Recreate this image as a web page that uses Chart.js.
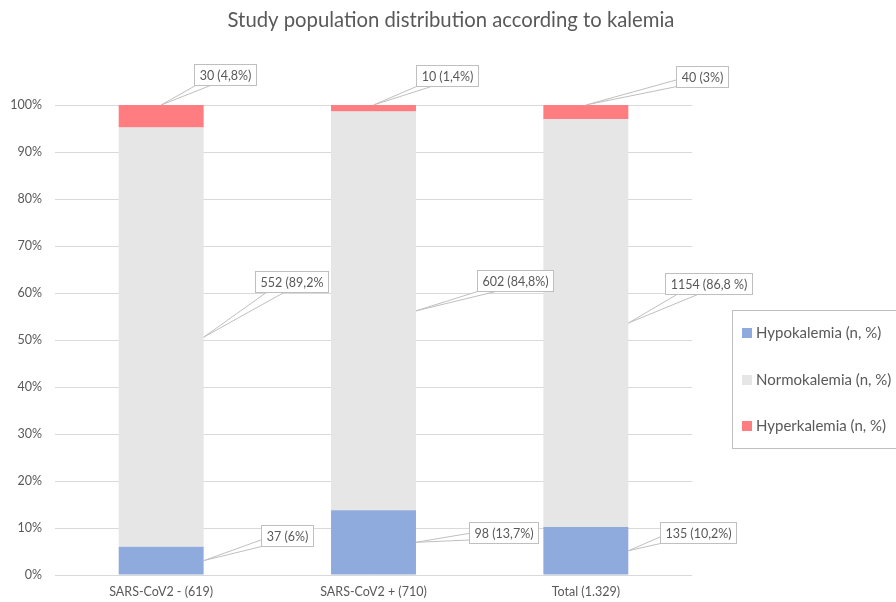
<!DOCTYPE html>
<html>
<head>
<meta charset="utf-8">
<script src="https://cdn.jsdelivr.net/npm/chart.js@4.4.1/dist/chart.umd.min.js"></script>
<style>
  html, body { margin: 0; padding: 0; background: #ffffff; }
  #wrap { width: 896px; height: 602px; }
</style>
</head>
<body>
<div id="wrap"><canvas id="c" width="896" height="602"></canvas></div>
<script>
// ---- data ----
const categories = ['SARS-CoV2 - (619)', 'SARS-CoV2 + (710)', 'Total (1.329)'];
const seriesNames = ['Hypokalemia (n, %)', 'Normokalemia (n, %)', 'Hyperkalemia (n, %)'];
const hypoPct  = [6.0, 13.8, 10.2];
const normoPct = [89.2, 84.8, 86.8];
const hyperPct = [4.8, 1.4, 3.0];
const hypoLabels  = ['37 (6%)', '98 (13,7%)', '135 (10,2%)'];
const normoLabels = ['552 (89,2%', '602 (84,8%)', '1154 (86,8 %)'];
const hyperLabels = ['30 (4,8%)', '10 (1,4%)', '40 (3%)'];
const titleText = 'Study population distribution according to kalemia';

// ---- styling / placement (not data) ----
const colors = ['#8faadc', '#e7e6e6', '#ff7c80'];
const FONT = 'Lato, "Open Sans", sans-serif';
const TEXT = '#595959';
// callout box centre offsets relative to anchor point on the segment
const hypoOffsets  = [[83, -25.5], [88, -9.5], [69.5, -18]];
const normoOffsets = [[88, -55.5], [99.5, -30], [80, -40]];
const hyperOffsets = [[63.5, -30.5], [73, -30], [116.5, -29]];

function drawCallout(ctx, ax, ay, cx, cy, text) {
  ctx.save();
  ctx.font = '12.5px ' + FONT;
  const tw = ctx.measureText(text).width;
  const w = Math.round(tw + 10), h = 21;
  const left = Math.round(cx - w / 2) + 0.5, top = Math.round(cy - h / 2) + 0.5;
  cx = left + w / 2; cy = top + h / 2;
  const dx = ax - cx, dy = ay - cy;
  const tx = dx === 0 ? Infinity : (w / 2) / Math.abs(dx);
  const ty = dy === 0 ? Infinity : (h / 2) / Math.abs(dy);
  let p1, p2;
  if (ty < tx) {
    const ey = cy + Math.sign(dy) * h / 2;
    let ex = cx + dx * ty;
    const half = w * 0.12;
    ex = Math.max(left + half, Math.min(left + w - half, ex));
    p1 = [ex - half, ey]; p2 = [ex + half, ey];
  } else {
    const ex = cx + Math.sign(dx) * w / 2;
    let ey = cy + dy * tx;
    const half = h * 0.16;
    ey = Math.max(top + half, Math.min(top + h - half, ey));
    p1 = [ex, ey - half]; p2 = [ex, ey + half];
  }
  // wedge
  ctx.beginPath();
  ctx.moveTo(p1[0], p1[1]);
  ctx.lineTo(ax, ay);
  ctx.lineTo(p2[0], p2[1]);
  ctx.closePath();
  ctx.fillStyle = '#ffffff';
  ctx.fill();
  ctx.beginPath();
  ctx.moveTo(p1[0], p1[1]);
  ctx.lineTo(ax, ay);
  ctx.lineTo(p2[0], p2[1]);
  ctx.strokeStyle = '#bfbfbf';
  ctx.lineWidth = 1;
  ctx.stroke();
  // box
  ctx.fillStyle = '#ffffff';
  ctx.fillRect(left, top, w, h);
  ctx.strokeStyle = '#bfbfbf';
  ctx.strokeRect(left, top, w, h);
  ctx.fillStyle = TEXT;
  ctx.textAlign = 'center';
  ctx.textBaseline = 'middle';
  ctx.fillText(text, cx, cy + 0.5);
  ctx.restore();
}

const calloutPlugin = {
  id: 'callouts',
  afterDatasetsDraw(chart) {
    const ctx = chart.ctx;
    chart.data.datasets.forEach((ds, di) => {
      const meta = chart.getDatasetMeta(di);
      meta.data.forEach((bar, i) => {
        const p = bar.getProps(['x', 'y', 'base', 'width'], true);
        const topY = Math.min(p.y, p.base), botY = Math.max(p.y, p.base);
        let ax, ay;
        if (ds.calloutAnchor === 'top') { ax = p.x; ay = topY; }
        else { ax = p.x + p.width / 2; ay = (topY + botY) / 2; }
        const off = ds.calloutOffsets[i];
        drawCallout(ctx, ax, ay, ax + off[0], ay + off[1], ds.calloutLabels[i]);
      });
    });
  },
  afterDraw(chart) {
    const ctx = chart.ctx;
    ctx.save();
    // title
    ctx.font = '20.3px ' + FONT;
    ctx.fillStyle = TEXT;
    ctx.textAlign = 'center';
    ctx.textBaseline = 'middle';
    ctx.fillText(titleText, 451, 20);
    // legend
    ctx.strokeStyle = '#bfbfbf';
    ctx.lineWidth = 1;
    ctx.strokeRect(732.5, 310.5, 200, 138);
    const ys = [333, 380, 426];
    ctx.font = '15px ' + FONT;
    ctx.textAlign = 'left';
    chart.data.datasets.forEach((ds, i) => {
      ctx.fillStyle = ds.backgroundColor;
      ctx.fillRect(742, ys[i] - 5, 10, 10);
      ctx.fillStyle = TEXT;
      ctx.fillText(ds.label, 756, ys[i] + 0.5);
    });
    ctx.restore();
  }
};

new Chart(document.getElementById('c'), {
  type: 'bar',
  data: {
    labels: categories,
    datasets: [
      { label: seriesNames[0], data: hypoPct, backgroundColor: colors[0],
        calloutLabels: hypoLabels, calloutOffsets: hypoOffsets, calloutAnchor: 'side' },
      { label: seriesNames[1], data: normoPct, backgroundColor: colors[1],
        calloutLabels: normoLabels, calloutOffsets: normoOffsets, calloutAnchor: 'side' },
      { label: seriesNames[2], data: hyperPct, backgroundColor: colors[2],
        calloutLabels: hyperLabels, calloutOffsets: hyperOffsets, calloutAnchor: 'top' }
    ]
  },
  options: {
    responsive: false,
    animation: false,
    devicePixelRatio: 1,
    layout: { padding: { left: 0, right: 204, top: 105, bottom: 0 } },
    datasets: { bar: { barPercentage: 0.4, categoryPercentage: 1.0, borderWidth: 0 } },
    plugins: { legend: { display: false }, title: { display: false }, tooltip: { enabled: false } },
    scales: {
      x: {
        stacked: true,
        grid: { display: false },
        border: { display: false },
        ticks: { font: { family: FONT, size: 12.5 }, color: TEXT, padding: 1, maxRotation: 0 },
        afterFit(s) { s.height = 27; }
      },
      y: {
        stacked: true,
        min: 0, max: 100,
        ticks: { stepSize: 10, callback: v => v + '%', padding: 13,
                 font: { family: FONT, size: 12.5 }, color: TEXT },
        grid: { color: '#d9d9d9', drawTicks: false, lineWidth: 1 },
        border: { display: false },
        afterFit(s) { s.width = 55; }
      }
    }
  },
  plugins: [calloutPlugin]
});
</script>
</body>
</html>
